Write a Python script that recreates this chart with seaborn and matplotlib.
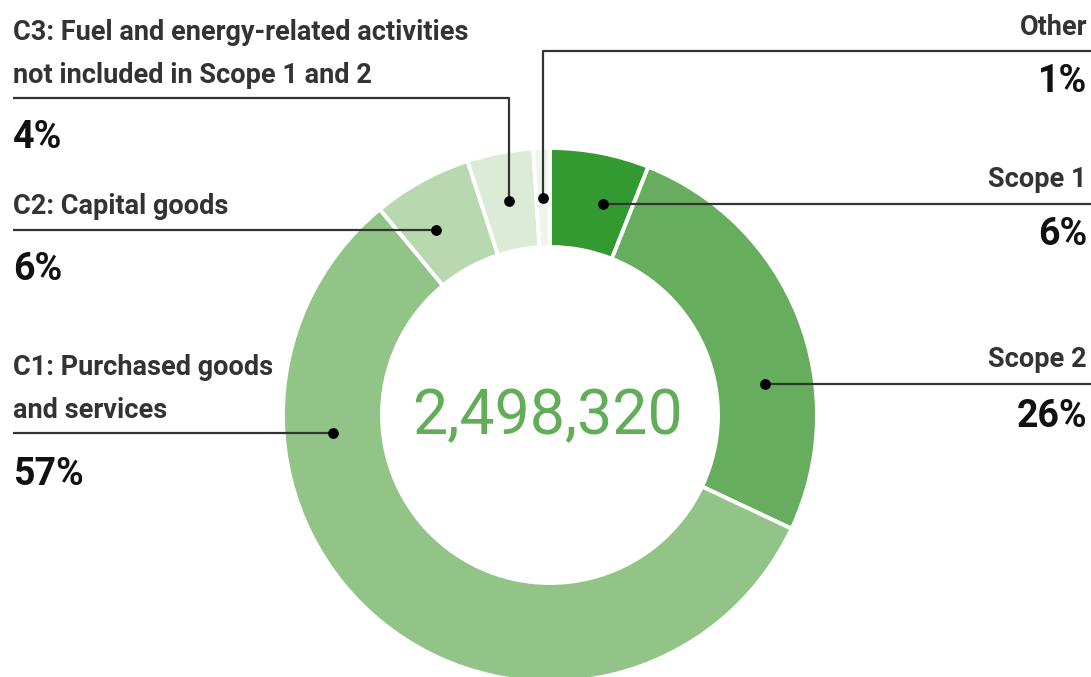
"""
Scope 1/2/3 emissions donut chart
"""

import numpy as np
import matplotlib
matplotlib.use('Agg')
import matplotlib.pyplot as plt
import seaborn as sns

# data
categories = ['Scope 1', 'Scope 2', 'C1: Purchased goods and services',
              'C2: Capital goods',
              'C3: Fuel and energy-related activities not included in Scope 1 and 2',
              'Other']
shares = [6, 26, 57, 6, 4, 1]
label_lines = [['Scope 1'], ['Scope 2'], ['C1: Purchased goods', 'and services'],
               ['C2: Capital goods'],
               ['C3: Fuel and energy-related activities', 'not included in Scope 1 and 2'],
               ['Other']]
total_text = '2,498,320'

colors = ['#339a31', '#66ae5d', '#92c487', '#b8d9af', '#dcebd6', '#eef6ec']

# layout (pixels, measured from top-left)
W, H = 1091, 677
CX, CY = 550, 415
R_OUT, R_IN = 267, 168
R_MID = (R_OUT + R_IN) / 2

# side, leader y, text baselines, pct baseline, kind
layout = {
    'Scope 1': dict(side='right', line_y=204, text_y=[187], pct_y=245, kind='flat'),
    'Scope 2': dict(side='right', line_y=384, text_y=[367], pct_y=427, kind='flat'),
    'C1': dict(side='left', line_y=433, text_y=[375, 418], pct_y=485, kind='flat'),
    'C2': dict(side='left', line_y=230, text_y=[214], pct_y=280, kind='flat'),
    'C3': dict(side='left', line_y=98, text_y=[40, 83], pct_y=148, kind='elbow'),
    'Other': dict(side='right', line_y=51, text_y=[35], pct_y=92, kind='elbow'),
}
keys = ['Scope 1', 'Scope 2', 'C1', 'C2', 'C3', 'Other']

LABEL_FONT = ['Roboto', 'DejaVu Sans']
TEXT_COL = '#333333'
LINE_COL = '#333333'


def Y(py):
    return H - py


def main():
    sns.set_theme(style='white')
    plt.rcParams['font.family'] = LABEL_FONT

    fig = plt.figure(figsize=(W / 100, H / 100), dpi=100)
    ax = fig.add_axes([0, 0, 1, 1])

    ax.pie(shares, colors=colors, startangle=90, counterclock=False,
           center=(CX, Y(CY)), radius=R_OUT,
           wedgeprops=dict(width=R_OUT - R_IN, edgecolor='white', linewidth=2.8))

    # pie() resets the limits, so set them afterwards
    ax.set_xlim(0, W)
    ax.set_ylim(0, H)
    ax.set_aspect('equal')
    ax.axis('off')

    ax.text(CX - 3, Y(CY) - 2, total_text, ha='center', va='center',
            fontsize=45, color='#62ad58', fontweight='normal')

    cum = np.cumsum([0] + shares[:-1])
    for i, key in enumerate(keys):
        lay = layout[key]
        mid = (cum[i] + shares[i] / 2) / 100 * 2 * np.pi  # clockwise from top
        ly = lay['line_y']
        sign = 1 if lay['side'] == 'right' else -1
        if lay['kind'] == 'flat':
            dy = CY - ly
            dx = np.sqrt(R_MID ** 2 - dy ** 2)
            dot_x, dot_y = CX + sign * dx, ly
        else:
            dot_x = CX + R_MID * np.sin(mid)
            dot_y = CY - R_MID * np.cos(mid)

        if lay['side'] == 'right':
            xs = [dot_x, dot_x, W]
            tx, ha = 1087, 'right'
        else:
            xs = [dot_x, dot_x, 13]
            tx, ha = 13, 'left'
        ax.plot(xs, [Y(dot_y), Y(ly), Y(ly)], color=LINE_COL, lw=1.6,
                solid_capstyle='butt', zorder=3)
        ax.scatter([dot_x], [Y(dot_y)], s=60, color='black', zorder=4, linewidths=0)

        for line, ty in zip(label_lines[i], lay['text_y']):
            ax.text(tx, Y(ty), line, ha=ha, va='baseline', fontsize=19.5,
                    fontweight='bold', color=TEXT_COL)
        ax.text(tx, Y(lay['pct_y']), f'{shares[i]}%', ha=ha, va='baseline',
                fontsize=27, fontweight='bold', color='#111111')

    fig.savefig('out.png', dpi=100)
    plt.close(fig)


if __name__ == '__main__':
    main()
